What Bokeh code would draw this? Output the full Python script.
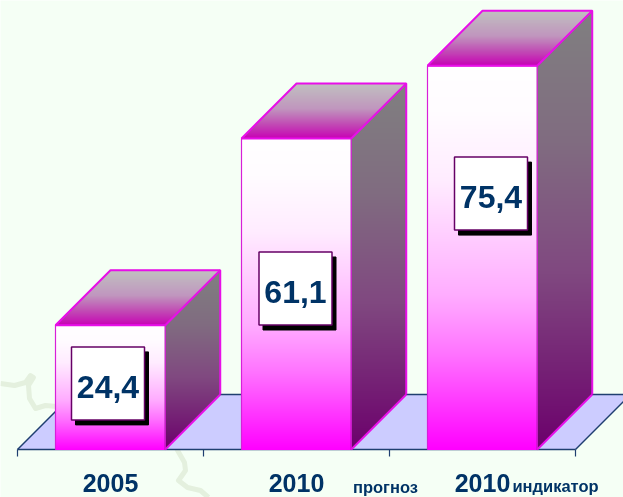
from bokeh.plotting import figure
from bokeh.models import Range1d
from bokeh.core.properties import value
from bokeh.embed import file_html
from bokeh.resources import INLINE
import numpy as np

# ---- data ----
categories = ["2005", "2010", "2010"]
values = [24.4, 61.1, 75.4]
value_labels = ["24,4", "61,1", "75,4"]
note_labels = ["прогноз", "индикатор"]

# ---- layout (pixels of the 623x497 page) ----
W, H = 623, 497
SLOT = 186.0       # px per category
UNIT = 5.09        # px per value unit
LEFT = 17.0        # px of x=0
BASE = 449.0       # px of y=0
DEPTH = 55.0       # 3D depth in px
BAR = 0.59         # bar width in slots
NAVY = "#003366"
EDGE = "#e80fe8"
FONT = value("Liberation Sans")

def dx(px):
    return px / SLOT
def dy(px):
    return px / UNIT

p = figure(width=W, height=H, output_backend="svg", toolbar_location=None,
           x_range=Range1d(-LEFT / SLOT, (W - LEFT) / SLOT),
           y_range=Range1d((BASE - H) / UNIT, BASE / UNIT),
           x_axis_location=None, y_axis_location=None,
           min_border=0, outline_line_color=None,
           background_fill_color="#f5fff5", border_fill_color="#f5fff5")
p.xgrid.visible = False
p.ygrid.visible = False
p.styles = {"position": "fixed", "left": "0px", "top": "0px"}

# faint map lines of the backdrop (page pixels turned into data)
map_a = [(0, 383), (14, 385), (25, 382), (30, 375), (33, 377), (28, 385), (29, 398), (35, 408), (45, 405), (56, 406)]
map_b = [(176, 448), (184, 462), (185, 470), (178, 480), (187, 487), (200, 490), (208, 497)]
for m in (map_a, map_b):
    p.line([(x - LEFT) / SLOT for x, _ in m], [(BASE - y) / UNIT for _, y in m],
           line_color="#e4f0de", line_width=5, line_join="round")

# floor
n = len(categories)
p.patch([0, n, n + dx(DEPTH), dx(DEPTH)], [0, 0, dy(DEPTH), dy(DEPTH)],
        fill_color="#ccccff", line_color=None)
p.line([0, dx(DEPTH), n + dx(DEPTH)], [0, dy(DEPTH), dy(DEPTH)], line_color="#1f3f70", line_width=1.5)
p.line([n, n + dx(DEPTH)], [0, dy(DEPTH)], line_color="#1f3f70", line_width=1.5)
p.line([0, n], [0, 0], line_color="#1f3f70", line_width=1.5)
p.segment(list(range(n + 1)), [0] * (n + 1), list(range(n + 1)), [dy(-7)] * (n + 1),
          line_color="#1f3f70", line_width=1.2)


def ramp(t, stops):
    ts = [s[0] for s in stops]
    r = np.interp(t, ts, [s[1] for s in stops])
    g = np.interp(t, ts, [s[2] for s in stops])
    b = np.interp(t, ts, [s[3] for s in stops])
    return "#%02x%02x%02x" % (int(r), int(g), int(b))

FRONT = [(0, 255, 255, 255), (.12, 255, 252, 255), (.3, 255, 236, 255), (.6, 255, 172, 255), (.75, 255, 115, 255), (1, 255, 0, 255)]
SIDE = [(0, 128, 128, 128), (.3, 128, 108, 128), (.6, 128, 72, 128), (1, 108, 0, 108)]
TOP = [(0, 200, 0, 180), (.25, 194, 70, 180), (.55, 192, 150, 190), (1, 192, 192, 192)]

xs, ys, colors = [], [], []
for i, v in enumerate(values):
    x0 = i + dx(38)
    x1 = x0 + BAR
    d_x, d_y = dx(DEPTH), dy(DEPTH)
    # front: one strip per pixel row
    K = int(np.ceil(v * UNIT))
    for k in range(K):
        a, b = min(v, dy(k + 1)), dy(k)
        xs.append([x0, x1, x1, x0]); ys.append([a, a, b, b])
        colors.append(ramp(1 - (k + .5) / K, FRONT))
    # side: gradient runs straight down over the whole face
    top = v + d_y
    K = int(np.ceil(top * UNIT))
    def left(y):
        return x1 + max(0.0, y - v) / d_y * d_x
    def right(y):
        return x1 + min(d_y, y) / d_y * d_x
    for k in range(K):
        a, b = min(top, dy(k + 1)), dy(k)
        xs.append([left(a), right(a), right(b), left(b)]); ys.append([a, a, b, b])
        colors.append(ramp(1 - (k + .5) / K, SIDE))
    # top face
    K = int(DEPTH)
    for k in range(K):
        a, b = k / K, (k + 1) / K
        xs.append([x0 + a * d_x, x1 + a * d_x, x1 + b * d_x, x0 + b * d_x])
        ys.append([v + a * d_y, v + a * d_y, v + b * d_y, v + b * d_y])
        colors.append(ramp((k + .5) / K, TOP))

p.patches(xs, ys, fill_color=colors, line_color=colors, line_width=1)

for i, v in enumerate(values):
    x0 = i + dx(38)
    x1 = x0 + BAR
    d_x, d_y = dx(DEPTH), dy(DEPTH)
    # thin front outline
    p.line([x0, x0, x1, x1], [0, v, v, 0], line_color="#d81fd8", line_width=1.2)
    # bright 3D outline
    p.line([x0, x0 + d_x, x1 + d_x, x1 + d_x], [v, v + d_y, v + d_y, d_y], line_color=EDGE, line_width=2)
    p.line([x0, x1, x1 + d_x], [v, v, v + d_y], line_color=EDGE, line_width=2)
    p.line([x1, x1 + d_x], [0, d_y], line_color=EDGE, line_width=2)

# value boxes
BOX_CX = [-2.5, -1.0, 8.5]      # px from slot centre
BOX_CY = [4.0, 5.5, 64.0]       # px above half-height of the bar
BOX = 73.0
cx = [i + .5 + dx(c) for i, c in enumerate(BOX_CX)]
cy = [v / 2 + dy(c) for v, c in zip(values, BOX_CY)]
p.quad(left=[c - dx(BOX / 2) + dx(4) for c in cx], right=[c + dx(BOX / 2) + dx(4) for c in cx],
       bottom=[c - dy(BOX / 2) - dy(5) for c in cy], top=[c + dy(BOX / 2) - dy(5) for c in cy],
       fill_color="#000000", line_color="#000000", line_width=1)
p.quad(left=[c - dx(BOX / 2) for c in cx], right=[c + dx(BOX / 2) for c in cx],
       bottom=[c - dy(BOX / 2) for c in cy], top=[c + dy(BOX / 2) for c in cy],
       fill_color="#ffffff", line_color="#660066", line_width=1.5)
p.text(cx, [c - dy(3.5) for c in cy], text=value_labels, text_align="center", text_baseline="middle",
       text_font=FONT, text_font_style="bold", text_font_size="32px", text_color=NAVY)

# category labels
p.text([i + .5 for i in range(n)], [dy(-33)] * n, text=categories, text_align="center",
       text_baseline="middle", text_font=FONT, text_font_style="bold",
       text_font_size="25px", text_color=NAVY)
p.text([dx(368), dx(538)], [dy(-37), dy(-36)], text=note_labels, text_align="center",
       text_baseline="middle", text_font=FONT, text_font_style="bold",
       text_font_size="16.5px", text_color=NAVY)

open("out.html", "w").write(file_html(p, INLINE))
